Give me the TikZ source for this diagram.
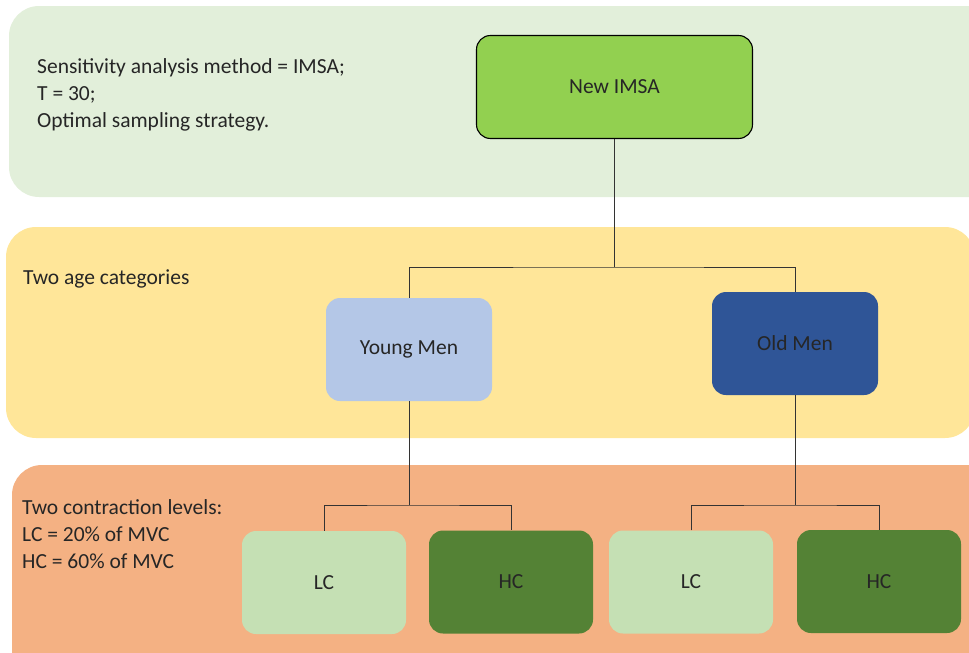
\documentclass[tikz,border=0pt]{standalone}
\usepackage{fontspec}
\setmainfont{Carlito}
\definecolor{bandgreen}{HTML}{E2EFDA}
\definecolor{bandyellow}{HTML}{FFE699}
\definecolor{bandorange}{HTML}{F4B183}
\definecolor{imsagreen}{HTML}{92D050}
\definecolor{youngblue}{HTML}{B4C7E7}
\definecolor{oldblue}{HTML}{2F5597}
\definecolor{lcgreen}{HTML}{C5E0B4}
\definecolor{hcgreen}{HTML}{548235}
\begin{document}
\begin{tikzpicture}[x=1pt, y=-1pt,
    every node/.style={font=\fontsize{21.5}{26.8}\selectfont, text=black!85},
    band/.style={rounded corners=30pt},
    box/.style={rounded corners=14pt, minimum width=164pt, minimum height=103pt, inner sep=0pt},
    note/.style={anchor=west, align=left, inner sep=0pt},
    link/.style={draw=black!80, line width=0.9pt}]
    \clip (0, 0) rectangle (969, 653);
    % background bands
    \fill[band, bandgreen] (9, 6) rectangle (1000, 197);
    \fill[band, bandyellow] (6, 227) rectangle (975, 438);
    \fill[band, bandorange] (12, 465) rectangle (1000, 700);
    % notes
    \node[note] (setup) at (37, 95) {Sensitivity analysis method = IMSA;\\T = 30;\\Optimal sampling strategy.};
    \node[note] (ages) at (23, 279) {Two age categories};
    \node[note] (levels) at (22, 534) {Two contraction levels:\\LC = 20\% of MVC\\HC = 60\% of MVC};
    % tree
    \node[box, minimum width=276pt, fill=imsagreen, draw=black, line width=1.1pt] (imsa) at (614.5, 87) {New IMSA};
    \node[box, minimum width=166pt, fill=youngblue] (young) at (409, 349.5) {Young Men};
    \node[box, minimum width=166pt, fill=oldblue] (old) at (795, 343.5) {Old Men};
    \node[box, fill=lcgreen] (lcyoung) at (324, 582.5) {LC};
    \node[box, fill=hcgreen] (hcyoung) at (511, 582) {HC};
    \node[box, fill=lcgreen] (lcold) at (691, 582) {LC};
    \node[box, fill=hcgreen] (hcold) at (879, 581.5) {HC};
    \coordinate (agesplit) at (614.5, 267);
    \coordinate (youngsplit) at (409, 505);
    \coordinate (oldsplit) at (795, 505);
    \draw[link] (imsa.south) -- (agesplit);
    \draw[link] (young.north) |- (agesplit) -| (old.north);
    \draw[link] (young.south) -- (youngsplit);
    \draw[link] (lcyoung.north) |- (youngsplit) -| (hcyoung.north);
    \draw[link] (old.south) -- (oldsplit);
    \draw[link] (lcold.north) |- (oldsplit) -| (hcold.north);
\end{tikzpicture}
\end{document}
